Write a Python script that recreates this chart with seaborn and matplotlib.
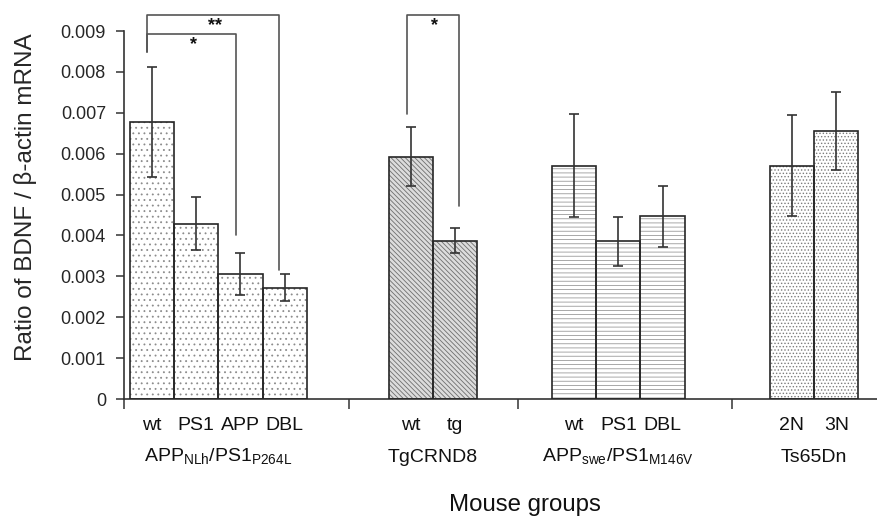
import numpy as np
import pandas as pd
import matplotlib
matplotlib.use("Agg")
import matplotlib.pyplot as plt
import matplotlib.transforms as mtransforms
from matplotlib.patches import Rectangle
from matplotlib.ticker import FuncFormatter
import seaborn as sns

# ---------------- data ----------------
group_names = [
    r"APP$_{\mathregular{NLh}}$/PS1$_{\mathregular{P264L}}$",
    "TgCRND8",
    r"APP$_{\mathregular{swe}}$/PS1$_{\mathregular{M146V}}$",
    "Ts65Dn",
]
bar_labels = ["wt", "PS1", "APP", "DBL", "wt", "tg", "wt", "PS1", "DBL", "2N", "3N"]
bar_group = [0, 0, 0, 0, 1, 1, 2, 2, 2, 3, 3]
ratio_mean = [0.00677, 0.00429, 0.00305, 0.00272,
              0.00593, 0.00387,
              0.00571, 0.00386, 0.00447,
              0.00571, 0.00656]
ratio_err = [0.00135, 0.00065, 0.00051, 0.00033,
             0.00073, 0.00030,
             0.00125, 0.00060, 0.00075,
             0.00124, 0.00096]
y_ticks = [0, 0.001, 0.002, 0.003, 0.004, 0.005, 0.006, 0.007, 0.008, 0.009]

# significance brackets: (left bar, right bar, top, left-leg bottom, right-leg bottom, label)
brackets = [
    (0, 3, 0.00940, 0.00849, 0.00315, "**"),
    (0, 2, 0.00892, 0.00849, 0.00401, "*"),
    (4, 5, 0.00940, 0.00697, 0.00473, "*"),
]

# ---------------- layout ----------------
group_start = [0.13, 5.98, 9.66, 14.58]      # left edge of first bar (bar-width units)
separators = [0.0, 5.08, 8.89, 13.72]
bracket_offsets = [(-0.12, -0.13), (-0.12, -0.11), (-0.10, 0.08)]
styles = [
    dict(face="white", hatch="...", hcolor="#8c8c8c"),
    dict(face="#dcdcdc", hatch="\\\\\\\\\\\\\\", hcolor="#6e6e6e"),
    dict(face="white", hatch="----", hcolor="#9a9a9a"),
    dict(face="white", hatch=".....", hcolor="#7c7c7c"),
]

pos = []
count = {}
for g in bar_group:
    i = count.get(g, 0)
    pos.append(group_start[g] + 0.5 + i)
    count[g] = i + 1

df = pd.DataFrame({"x": pos, "value": ratio_mean, "err": ratio_err,
                   "group": bar_group, "label": bar_labels})

sns.set_theme(style="white")
plt.rcParams["font.family"] = ["Liberation Sans", "DejaVu Sans"]
plt.rcParams["mathtext.fontset"] = "custom"
plt.rcParams["mathtext.rm"] = "Liberation Sans"
plt.rcParams["hatch.linewidth"] = 0.6

fig = plt.figure(figsize=(8.77, 5.17), dpi=100)
ax = fig.add_axes([124 / 877, 1 - 399 / 517, 753 / 877, 368 / 517])

for g in range(len(group_names)):
    st = styles[g]
    n_before = len(ax.patches)
    sub = df[df.group == g]
    sns.barplot(data=sub, x="x", y="value", native_scale=True, width=1.0,
                color=st["face"], errorbar=None, ax=ax)
    for p in ax.patches[n_before:]:
        p.set_facecolor(st["face"])
        p.set_hatch(st["hatch"])
        p.set_edgecolor(st["hcolor"])
        p.set_linewidth(0)
    for p in list(ax.patches[n_before:]):
        ax.add_patch(Rectangle(p.get_xy(), p.get_width(), p.get_height(),
                               fill=False, ec="#262626", lw=1.2, zorder=3))

ax.errorbar(df["x"], df["value"], yerr=df["err"], fmt="none", ecolor="#333333",
            elinewidth=1.2, capsize=3.5, capthick=1.2, zorder=4)

ax.set_xlim(0, 17)
ax.set_ylim(0, 0.009)
ax.set_yticks(y_ticks)
ax.yaxis.set_major_formatter(FuncFormatter(lambda v, _: "0" if v == 0 else f"{v:.3f}"))
ax.set_xticks(separators)
ax.set_xticklabels([])
ax.tick_params(axis="y", direction="out", length=6, width=1.1, color="#333333",
               labelsize=13, pad=7, left=True)
ax.tick_params(axis="x", direction="out", length=7, width=1.1, color="#333333",
               bottom=True)
for s in ["top", "right"]:
    ax.spines[s].set_visible(False)
for s in ["left", "bottom"]:
    ax.spines[s].set_color("#333333")
    ax.spines[s].set_linewidth(1.2)
ax.set_xlabel("")
ax.set_ylabel("Ratio of BDNF / β-actin mRNA", fontsize=17.5)
ax.yaxis.set_label_coords(-0.116, 0.549)

# labels below axis
trans = mtransforms.blended_transform_factory(ax.transData, fig.transFigure)
for x, lab in zip(df["x"], df["label"]):
    ax.text(x, 1 - 425 / 517, lab, transform=trans, ha="center", va="center",
            fontsize=14, color="#111111")
for g, name in enumerate(group_names):
    xs = df[df.group == g]["x"]
    ax.text(xs.mean(), 1 - 457 / 517, name, transform=trans, ha="center",
            va="center", fontsize=14, color="#111111")
fig.text(525 / 877, 1 - 505 / 517, "Mouse groups", ha="center", va="center",
         fontsize=17.3, color="#111111")

# significance brackets
for (l, r, top, lb, rb, lab), (ol, orr) in zip(brackets, bracket_offsets):
    xl = pos[l] + ol
    xr = pos[r] + orr
    ax.plot([xl, xl, xr, xr], [lb, top, top, rb], color="#555555", lw=1.2,
            clip_on=False, zorder=5)
    ax.text((xl + xr) / 2 + 0.05, top - 0.00026, lab, ha="center", va="center",
            fontsize=13, fontweight="bold", color="#111111", clip_on=False)

fig.savefig("out.png", dpi=100)
